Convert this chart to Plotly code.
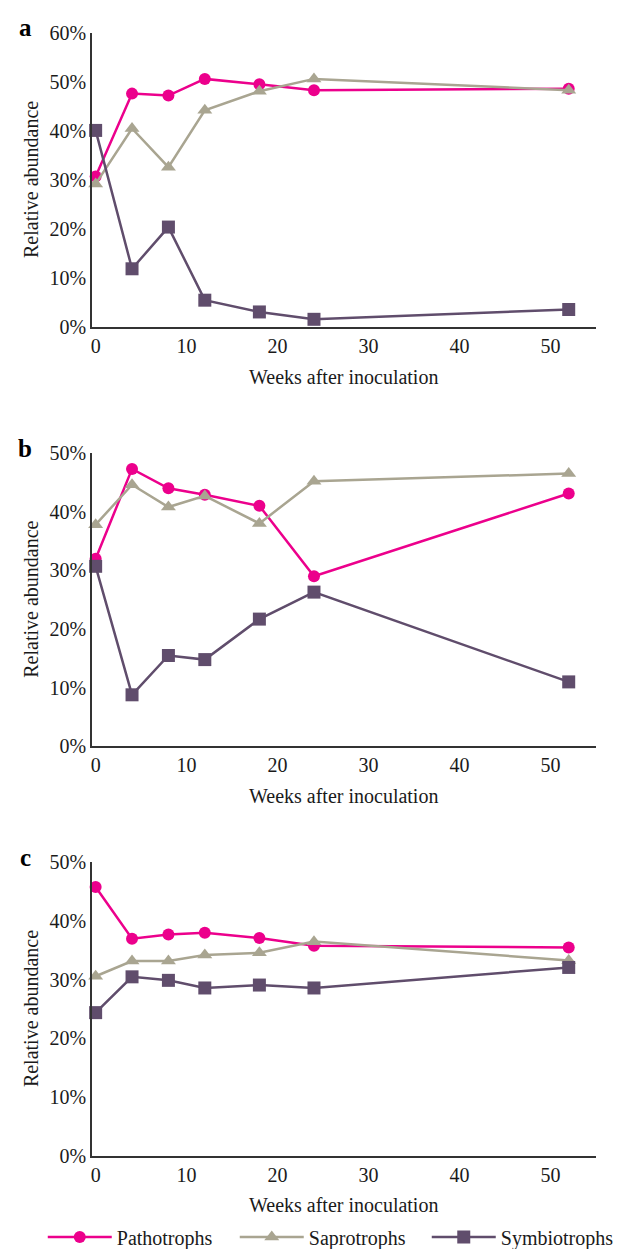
import plotly.graph_objects as go

weeks = [0, 4, 8, 12, 18, 24, 52]

a_patho = [30.7, 47.6, 47.2, 50.6, 49.5, 48.3, 48.6]
a_sapro = [29.2, 40.5, 32.6, 44.2, 48.1, 50.6, 48.3]
a_symbio = [40.1, 11.9, 20.4, 5.5, 3.1, 1.6, 3.6]

b_patho = [32.0, 47.3, 44.0, 42.9, 41.0, 29.0, 43.1]
b_sapro = [37.8, 44.6, 40.8, 42.7, 38.0, 45.2, 46.5]
b_symbio = [30.7, 8.8, 15.5, 14.8, 21.7, 26.3, 11.0]

c_patho = [45.8, 37.0, 37.7, 38.0, 37.1, 35.8, 35.5]
c_sapro = [30.6, 33.2, 33.2, 34.2, 34.6, 36.5, 33.3]
c_symbio = [24.4, 30.5, 29.9, 28.6, 29.1, 28.6, 32.1]

series_names = ["Pathotrophs", "Saprotrophs", "Symbiotrophs"]
panel_labels = ["a", "b", "c"]
y_max = [60, 50, 50]
x_title = "Weeks after inoculation"
y_title = "Relative abundance"

colors = ["#EC008C", "#A9A591", "#604D6C"]
symbols = ["circle", "triangle-up", "square"]
msizes = [12, 13, 13]

W, H = 632, 1249
FONT = "Liberation Serif, Times New Roman, serif"
TXT = "#1a1a1a"
FS = 20

panels = [(a_patho, a_sapro, a_symbio), (b_patho, b_sapro, b_symbio), (c_patho, c_sapro, c_symbio)]
# pixel geometry of plot areas (top, bottom)
py = [(25, 322), (449, 745), (862, 1158)]
x_dom = [84 / W, 588 / W]

fig = go.Figure()
for i, data in enumerate(panels):
    xa = "x" if i == 0 else f"x{i+1}"
    ya = "y" if i == 0 else f"y{i+1}"
    for j, vals in enumerate(data):
        fig.add_trace(go.Scatter(
            x=weeks, y=vals, mode="lines+markers", name=series_names[j],
            line=dict(color=colors[j], width=2.5),
            marker=dict(symbol=symbols[j], size=msizes[j], color=colors[j]),
            xaxis=xa, yaxis=ya, cliponaxis=False,
            showlegend=(i == 2), legendgroup=series_names[j],
        ))

layout = dict(
    width=W, height=H, margin=dict(l=0, r=0, t=0, b=0),
    plot_bgcolor="white", paper_bgcolor="white",
    font=dict(family=FONT, size=FS, color=TXT),
    showlegend=True,
    legend=dict(orientation="h", x=0.055, y=1 - 1240 / H, xanchor="left", yanchor="middle",
                font=dict(family=FONT, size=FS, color=TXT),
                itemwidth=64, entrywidth=113, entrywidthmode="pixels", traceorder="normal",
                tracegroupgap=0),
)
annotations = []
for i in range(3):
    top, bot = py[i]
    xk = "xaxis" if i == 0 else f"xaxis{i+1}"
    yk = "yaxis" if i == 0 else f"yaxis{i+1}"
    yanchor_name = "y" if i == 0 else f"y{i+1}"
    xanchor_name = "x" if i == 0 else f"x{i+1}"
    layout[xk] = dict(domain=x_dom, range=[-0.4, 55], anchor=yanchor_name,
                      showline=True, linecolor="#333333", linewidth=1.5,
                      showgrid=False, zeroline=False, ticks="", tickvals=[0, 10, 20, 30, 40, 50],
                      tickfont=dict(family=FONT, size=FS, color=TXT), automargin=False)
    layout[yk] = dict(domain=[1 - bot / H, 1 - top / H], range=[0, y_max[i]], anchor=xanchor_name,
                      showline=True, linecolor="#333333", linewidth=1.5,
                      showgrid=False, zeroline=False, ticks="", dtick=10, ticksuffix="%",
                      tickfont=dict(family=FONT, size=FS, color=TXT), automargin=False)
    annotations.append(dict(text=y_title, textangle=-90, x=23 / W, y=1 - (top + bot) / 2 / H,
                            xref="paper", yref="paper", showarrow=False,
                            xanchor="center", yanchor="middle",
                            font=dict(family=FONT, size=FS, color=TXT)))
    annotations.append(dict(text=x_title, x=336 / W, y=1 - (bot + 50) / H,
                            xref="paper", yref="paper", showarrow=False,
                            xanchor="center", yanchor="middle",
                            font=dict(family=FONT, size=FS, color=TXT)))
    annotations.append(dict(text=f"<b>{panel_labels[i]}</b>", x=17 / W, y=1 - (top - 5) / H,
                            xref="paper", yref="paper", showarrow=False,
                            xanchor="center", yanchor="middle",
                            font=dict(family=FONT, size=25, color="#000000")))
layout["annotations"] = annotations
fig.update_layout(**layout)
fig.write_html("out.html")
